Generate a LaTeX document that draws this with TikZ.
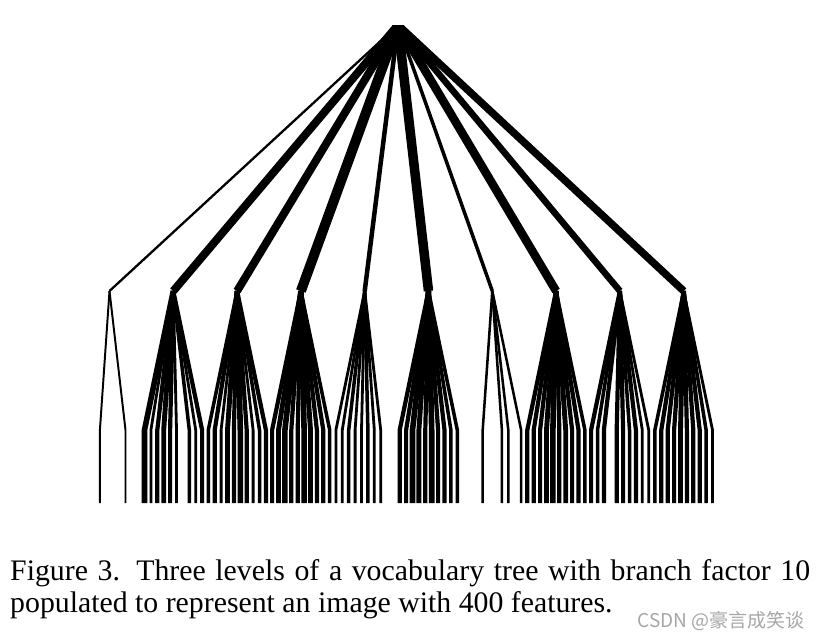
\documentclass[tikz,border=0pt]{standalone}
\usepackage{fontspec}
\setmainfont{Liberation Serif}
\newfontfamily\cjkfont{Noto Sans CJK SC}
\begin{document}
\begin{tikzpicture}[x=1pt,y=-1pt,
  edge/.style={line cap=butt, line join=miter, black},
  captext/.style={anchor=base west, inner sep=0pt, font=\fontsize{29.8}{32}\selectfont},
  wmark/.style={anchor=base east, inner sep=0pt, text=black!35, font=\cjkfont\fontsize{19}{19}\selectfont}]
\useasboundingbox (0,0) rectangle (822,640);
\begin{scope}
\clip (0,25) rectangle (822,640);
\coordinate (r) at (398,25);
\foreach \g/\rw/\ws in {
  0/2.3/{0,0,0,1.4,0,0,0,1.4,0,0},
  1/8/{4,2,3,3.5,3,2,0,2.5,2,3},
  2/8/{2.5,3,2,3.5,3,4,3,2,2.5,3},
  3/10/{3,3.5,4,3,3,4,3.5,3,3,2.5},
  4/4.5/{2,2,2.5,2,2,2.5,2,2,0,0},
  5/9.5/{3,3,4,3.5,3,4,3,3,2.5,2.5},
  6/3.5/{0,0,0,1.8,0,0,1.8,1.8,0,1.8},
  7/8.5/{3,3,3,3.5,4,3,3.5,3,3,2.5},
  8/6.5/{3,2.5,3,0,3,3,2.5,3,2,2},
  9/7.5/{2.5,3,3,3,3.5,3,3,3,2.5,2}}{
  \coordinate (a\g) at ({109.5+63.8*\g},291);
  \draw[edge, line width=\rw pt] (r) -- (a\g);
  \foreach \w [count=\j from 0] in \ws {
    \ifdim \w pt>0pt
      \pgfmathsetmacro\lw{\w*1.4}
      \coordinate (b\g-\j) at ({109.5+63.8*\g+(\j-4.5)*6.4},430);
      \coordinate (c\g-\j) at ({109.5+63.8*\g+(\j-4.5)*6.4},503);
      \draw[edge, line width=\lw pt] (a\g) -- (b\g-\j) -- (c\g-\j);
    \fi
  }
}
\end{scope}
\node[captext] (cap1) at (10,580) {\hbox to 800pt{Figure 3. Three levels of a vocabulary tree with branch factor 10}};
\node[captext] (cap2) at (10,612) {populated to represent an image with 400 features.};
\node[wmark] (wm) at (805,627) {CSDN @豪言成笑谈};
\end{tikzpicture}
\end{document}
